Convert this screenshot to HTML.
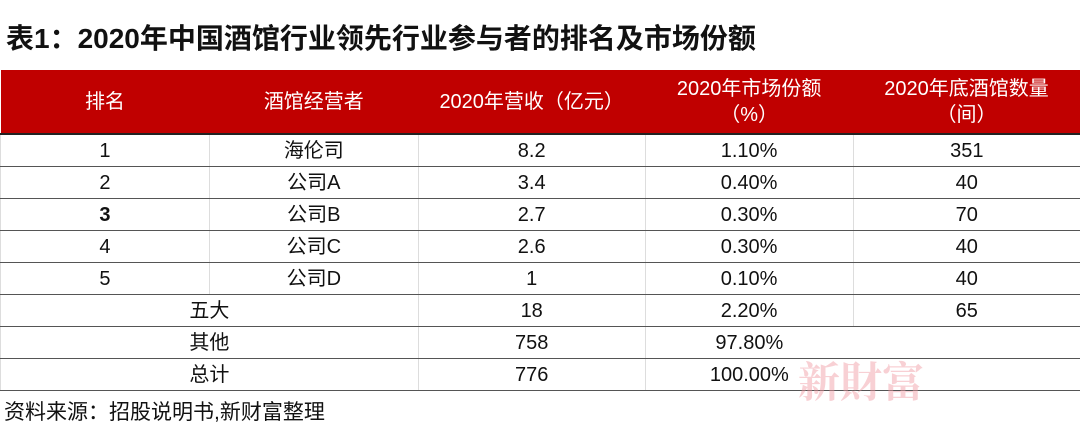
<!DOCTYPE html>
<html><head><meta charset="utf-8"><style>
body{margin:0;width:1080px;height:424px;background:#fff;position:relative;overflow:hidden;font-family:"Liberation Sans","Noto Sans CJK SC",sans-serif;color:#111}
.t{position:absolute;left:6px;top:17px;font-size:28px;font-weight:bold;letter-spacing:0px}
table{position:absolute;left:0;top:70px;width:1080px;border-collapse:collapse;font-size:20px}
td{text-align:center;height:31px;padding:0;border-bottom:1.5px solid #555;border-left:1px solid #ddd;line-height:22px}
tr.h td{background:#c00000;color:#fff;height:63px;border-bottom:2px solid #222;border-left:none;line-height:26px}
.src{position:absolute;left:4px;top:396px;font-size:21px}
.wm{position:absolute;left:798px;top:350px;font-family:"Noto Serif CJK SC",serif;font-weight:bold;font-size:42px;color:rgba(240,150,160,.45)}
</style></head><body>
<div class="t">表1：2020年中国酒馆行业领先行业参与者的排名及市场份额</div>
<table>
<colgroup><col style="width:209px"><col style="width:209px"><col style="width:227px"><col style="width:208px"><col style="width:227px"></colgroup>
<tr class="h"><td>排名</td><td>酒馆经营者</td><td>2020年营收（亿元）</td><td>2020年市场份额<br>（%）</td><td>2020年底酒馆数量<br>（间）</td></tr>
<tr><td>1</td><td>海伦司</td><td>8.2</td><td>1.10%</td><td>351</td></tr>
<tr><td>2</td><td>公司A</td><td>3.4</td><td>0.40%</td><td>40</td></tr>
<tr><td><b>3</b></td><td>公司B</td><td>2.7</td><td>0.30%</td><td>70</td></tr>
<tr><td>4</td><td>公司C</td><td>2.6</td><td>0.30%</td><td>40</td></tr>
<tr><td>5</td><td>公司D</td><td>1</td><td>0.10%</td><td>40</td></tr>
<tr><td colspan="2">五大</td><td>18</td><td>2.20%</td><td>65</td></tr>
<tr><td colspan="2">其他</td><td>758</td><td>97.80%</td><td style="border-left:none"></td></tr>
<tr><td colspan="2">总计</td><td>776</td><td>100.00%</td><td style="border-left:none"></td></tr>
</table>
<div class="wm">新財富</div>
<div class="src">资料来源：招股说明书,新财富整理</div>
</body></html>
